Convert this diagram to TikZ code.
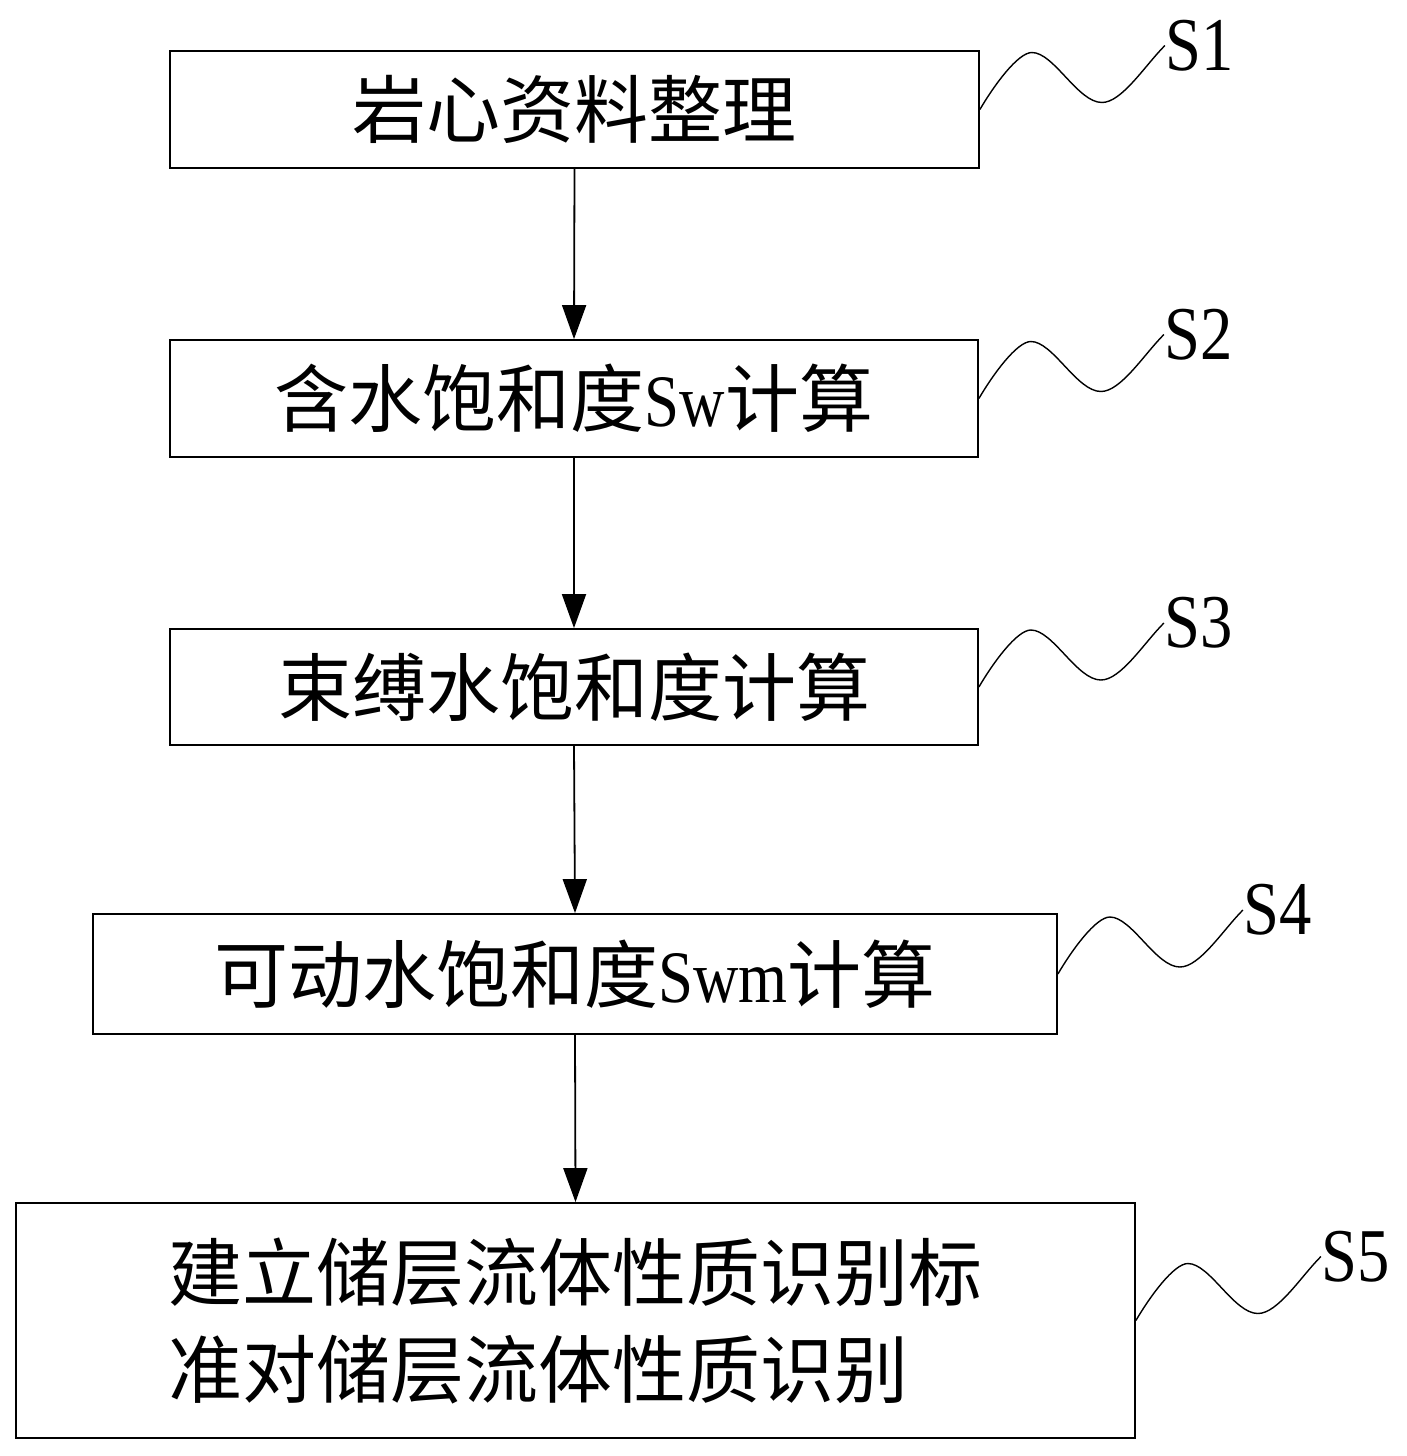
\documentclass[tikz,border=0pt]{standalone}
\usepackage{fontspec}
\setmainfont{Liberation Serif}[FakeStretch=0.85]
\newfontfamily\cjk{Noto Sans CJK SC}
\usetikzlibrary{arrows.meta,calc}
\tikzset{
  box/.style={draw=black, line width=1.8pt, rectangle, inner sep=0pt,
    font=\fontsize{74}{97}\selectfont\cjk, text=black},
  flow/.style={draw=black, line width=1.8pt, -{Triangle[length=34pt,width=24pt]}},
  sq/.style={draw=black, line width=1.4pt},
  lab/.style={inner sep=0pt, anchor=west, font=\fontsize{76}{80}\selectfont}
}
\newcommand\lat[1]{{\rmfamily #1}}
\begin{document}
\begin{tikzpicture}[x=1pt,y=-1pt]
\useasboundingbox (0,0) rectangle (1407,1456);
\node[box, minimum width=809pt, minimum height=117pt] (s1) at (574.5,109.5) {岩心资料整理};
\node[box, minimum width=808pt, minimum height=117pt] (s2) at (574,398.5) {含水饱和度\lat{Sw}计算};
\node[box, minimum width=808pt, minimum height=116pt] (s3) at (574,687) {束缚水饱和度计算};
\node[box, minimum width=964pt, minimum height=120pt] (s4) at (575,974) {可动水饱和度\lat{Swm}计算};
\node[box, minimum width=1119pt, minimum height=235pt, align=left] (s5) at (575.5,1320.5) {建立储层流体性质识别标\\准对储层流体性质识别};

\draw[flow] (s1.south) -- (s2.north);
\draw[flow] (s2.south) -- (s3.north);
\draw[flow] (s3.south) -- (s4.north);
\draw[flow] (s4.south) -- (s5.north);

\foreach \i in {1,...,5}{
  \node[lab] (l\i) at ($(s\i.east)+(185,-64)$) {S\i};
  \draw[sq] (s\i.east) .. controls +(14,-24) and +(-14,0) .. ++(52,-57)
     .. controls +(22,0) and +(-24,0) .. ++(70,50)
     .. controls +(20,0) and +(-20,20) .. (l\i.west);
}
\end{tikzpicture}
\end{document}
